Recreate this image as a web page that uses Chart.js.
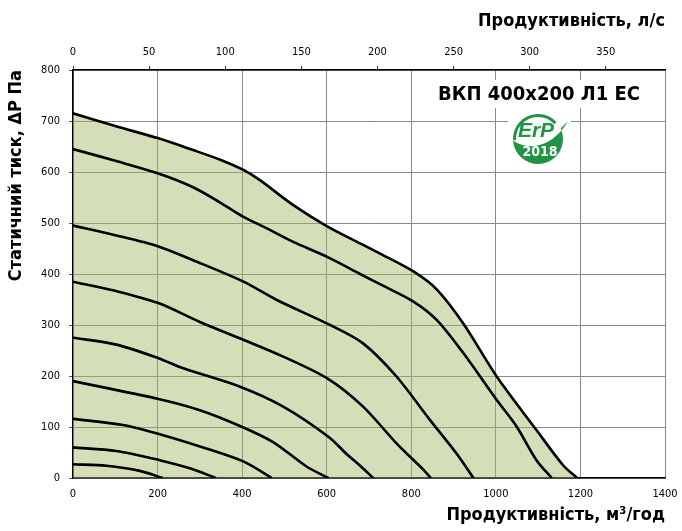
<!DOCTYPE html>
<html>
<head>
<meta charset="utf-8">
<script src="https://cdn.jsdelivr.net/npm/chart.js@4.4.1/dist/chart.umd.min.js"></script>
<style>
  html, body { margin: 0; padding: 0; background: #fff; }
  #wrap { width: 682px; height: 531px; }
</style>
</head>
<body>
<div id="wrap"><canvas id="fan-chart" width="682" height="531"></canvas></div>
<script>
// Fan curves: flow in m3/h, static pressure in Pa
const c1Flow = [0, 100, 202, 284, 348, 403, 442, 521, 600, 679, 726, 805, 860, 923, 1002, 1096, 1159, 1192];
const c1Pa   = [715, 690, 666, 643, 624, 604, 584, 535, 494, 460, 440, 405, 370, 303, 199, 94, 25, 0];
const c2Flow = [0, 100, 202, 284, 348, 403, 460, 521, 600, 679, 726, 805, 860, 923, 1002, 1049, 1096, 1132];
const c2Pa   = [645, 622, 597, 570, 540, 512, 489, 463, 434, 400, 380, 346, 310, 245, 153, 101, 35, 0];
const c3Flow = [0, 100, 202, 284, 403, 482, 608, 686, 765, 844, 907, 947];
const c3Pa   = [495, 476, 454, 427, 385, 349, 300, 264, 199, 114, 48, 0];
const c4Flow = [0, 100, 202, 300, 403, 497, 604, 686, 765, 829, 846];
const c4Pa   = [385, 367, 343, 306, 271, 238, 194, 140, 68, 16, 0];
const c5Flow = [0, 100, 202, 261, 395, 497, 604, 647, 679, 710];
const c5Pa   = [275, 262, 235, 215, 179, 140, 81, 47, 24, 0];
const c6Flow = [0, 202, 300, 395, 474, 553, 604];
const c6Pa   = [190, 155, 133, 102, 70, 22, 0];
const c7Flow = [0, 118, 205, 315, 404, 470];
const c7Pa   = [116, 104, 86, 58, 32, 0];
const c8Flow = [0, 102, 205, 276, 338];
const c8Pa   = [60, 53, 35, 19, 0];
const c9Flow = [0, 79, 158, 212];
const c9Pa   = [27, 24, 14, 0];

const xTicksM3h = [0, 200, 400, 600, 800, 1000, 1200, 1400];
const xTicksLs = [0, 50, 100, 150, 200, 250, 300, 350];
const yTicksPa = [0, 100, 200, 300, 400, 500, 600, 700, 800];

const M3H_PER_LS = 3.6;
const GREEN_FILL = 'rgba(160, 185, 100, 0.45)';
const COND = "'DejaVu Sans Condensed', 'DejaVu Sans', sans-serif";

function toPoints(flow, pa) {
  return flow.map((f, i) => ({ x: f, y: pa[i] }));
}

function curve(flow, pa, fill) {
  return {
    data: toPoints(flow, pa),
    borderColor: '#000',
    borderWidth: 2.6,
    pointRadius: 0,
    tension: 0.3,
    fill: fill ? 'origin' : false,
    backgroundColor: fill ? GREEN_FILL : 'transparent'
  };
}

function keepTicks(list) {
  return scale => { scale.ticks = list.map(v => ({ value: v })); };
}

// fixed box sizes so the plot area lands where the datasheet has it
function fixBox(w, h) {
  return s => {
    if (w) s.width = w;
    if (h) s.height = h;
    s.paddingLeft = 0;
    s.paddingRight = 0;
    s.paddingTop = 0;
    s.paddingBottom = 0;
  };
}

// model name and ErP badge sit on white patches inside the plot
const badgePlugin = {
  id: 'badge',
  afterDraw(chart) {
    const ctx = chart.ctx;
    ctx.save();
    ctx.fillStyle = '#fff';
    ctx.fillRect(430, 80, 222, 28);
    ctx.fillRect(508, 110, 63, 62);

    ctx.fillStyle = '#000';
    ctx.font = "bold 20px " + COND;
    ctx.textAlign = 'center';
    ctx.textBaseline = 'middle';
    ctx.fillText('ВКП 400x200 Л1 ЕС', 539, 95);

    const cx = 538, cy = 139, r = 25;
    const green = '#1f9445';
    const a0 = Math.atan2(-12, 26), a1 = Math.atan2(1, -25);
    ctx.beginPath();
    ctx.moveTo(cx + r * Math.cos(a1), cy + r * Math.sin(a1));
    ctx.bezierCurveTo(526, 151, 552, 149, 568, 121);
    ctx.lineTo(cx + r * Math.cos(a0), cy + r * Math.sin(a0));
    ctx.arc(cx, cy, r, a0, a1, false);
    ctx.closePath();
    ctx.fillStyle = green;
    ctx.fill();

    ctx.beginPath();
    ctx.arc(cx, cy, r - 1.5, a1, a0 + Math.PI * 2 - 0.3, false);
    ctx.strokeStyle = green;
    ctx.lineWidth = 3;
    ctx.stroke();

    ctx.fillStyle = green;
    ctx.font = "italic bold 21px 'Liberation Sans', sans-serif";
    ctx.fillText('ErP', 536, 131);
    ctx.fillStyle = '#fff';
    ctx.font = "bold 14px " + COND;
    ctx.fillText('2018', 540, 152);
    ctx.restore();
  }
};

function render() {
  const ctx = document.getElementById('fan-chart');
  const tickFont = { family: COND, size: 11 };
  const titleFont = { family: COND, size: 18, weight: 'bold' };
  const plain = v => String(v);
  new Chart(ctx, {
    type: 'line',
    data: {
      datasets: [
        curve(c1Flow, c1Pa, true),
        curve(c2Flow, c2Pa),
        curve(c3Flow, c3Pa),
        curve(c4Flow, c4Pa),
        curve(c5Flow, c5Pa),
        curve(c6Flow, c6Pa),
        curve(c7Flow, c7Pa),
        curve(c8Flow, c8Pa),
        curve(c9Flow, c9Pa)
      ]
    },
    options: {
      responsive: false,
      animation: false,
      layout: { padding: { left: 0, right: 17, top: 0, bottom: 0 } },
      plugins: {
        legend: { display: false },
        tooltip: { enabled: false },
        filler: { drawTime: 'beforeDatasetsDraw' }
      },
      scales: {
        x: {
          type: 'linear',
          position: 'bottom',
          min: 0,
          max: 1400,
          afterBuildTicks: keepTicks(xTicksM3h),
          afterFit: fixBox(0, 53),
          grid: { color: '#8a8a8a', lineWidth: 1, drawTicks: false },
          border: { color: '#000', width: 1.5 },
          ticks: { color: '#000', font: tickFont, padding: 10, maxRotation: 0, callback: plain },
          title: {
            display: true, text: 'Продуктивність, м³/год', align: 'end',
            color: '#000', font: titleFont, padding: { top: 0, bottom: 5 }
          }
        },
        x2: {
          type: 'linear',
          position: 'top',
          min: 0,
          max: 1400 / M3H_PER_LS,
          afterBuildTicks: keepTicks(xTicksLs),
          afterFit: fixBox(0, 70),
          grid: { drawOnChartArea: false, tickLength: 4, tickColor: '#333' },
          border: { color: '#000', width: 1.5 },
          ticks: { color: '#000', font: tickFont, padding: 7, maxRotation: 0, callback: plain },
          title: {
            display: true, text: 'Продуктивність, л/с', align: 'end',
            color: '#000', font: titleFont, padding: { top: 11, bottom: 0 }
          }
        },
        y: {
          min: 0,
          max: 800,
          afterBuildTicks: keepTicks(yTicksPa),
          afterFit: fixBox(73, 0),
          grid: { color: '#8a8a8a', lineWidth: 1, tickLength: 4, tickColor: '#555' },
          border: { color: '#000', width: 1.5 },
          ticks: { color: '#000', font: tickFont, padding: 9, callback: plain },
          title: {
            display: true, text: 'Статичний тиск, ΔP Па', align: 'end',
            color: '#000', font: titleFont, padding: { top: 6, bottom: 0 }
          }
        }
      }
    },
    plugins: [badgePlugin]
  });
}

render();
</script>
</body>
</html>
